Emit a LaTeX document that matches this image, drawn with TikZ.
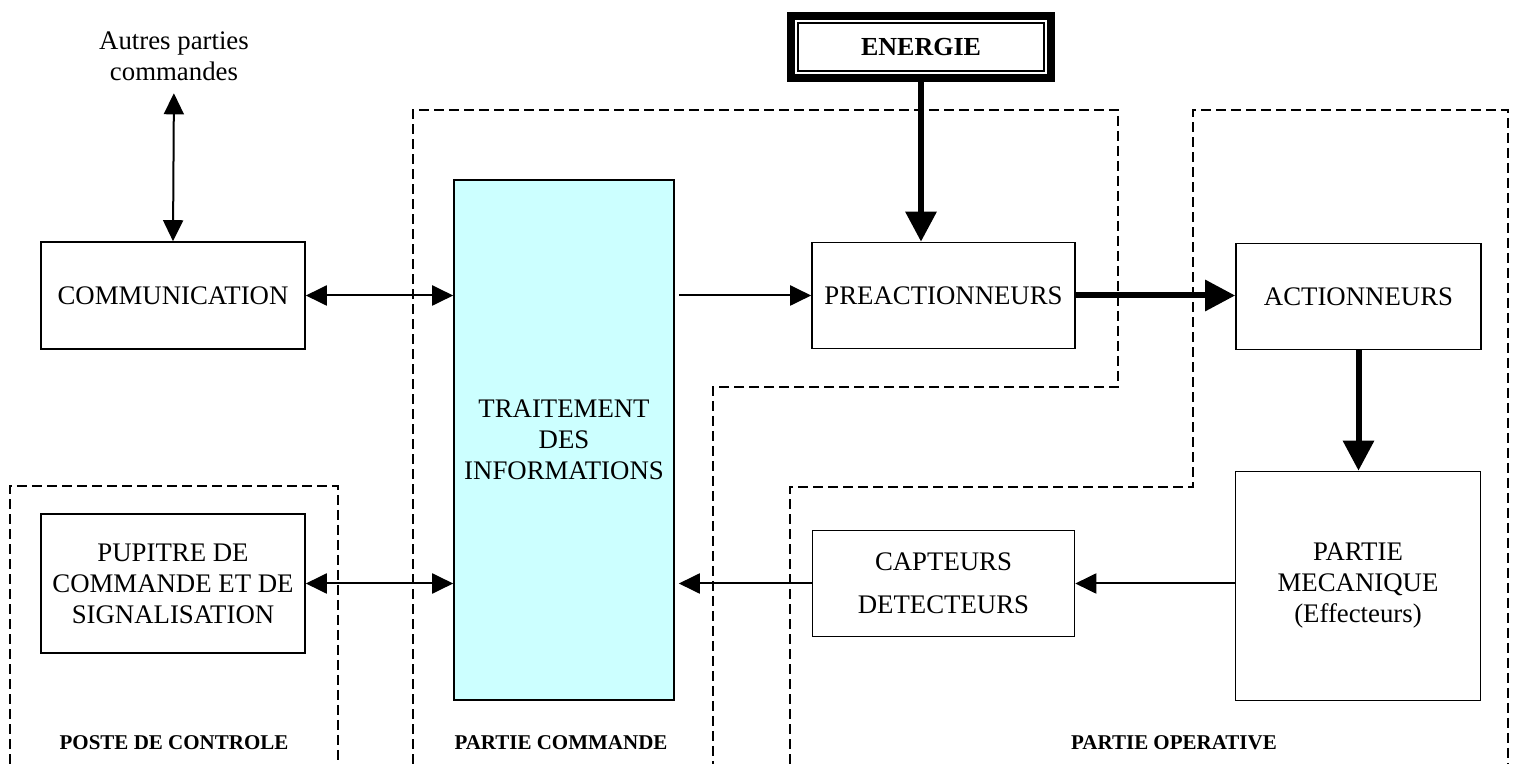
\documentclass[tikz,border=0pt]{standalone}
\usepackage{fontspec}
\setmainfont{Liberation Serif}
\usepackage{tikz}
\usetikzlibrary{arrows.meta,calc}
\definecolor{ticyan}{HTML}{CCFFFF}
\tikzset{
  bloc/.style={draw=black, line width=0.8pt, align=center, inner sep=2pt,
               font=\fontsize{13.4}{15.5}\selectfont},
  zone/.style={draw=black, line width=0.8pt, dash pattern=on 5pt off 2.5pt},
  etiq/.style={font=\fontsize{10.5}{12}\selectfont\bfseries},
  fleche/.style={line width=1pt, -{Triangle[length=10.5pt,width=10pt]}},
  flechedouble/.style={line width=1pt,
               {Triangle[length=10.5pt,width=10pt]}-{Triangle[length=10.5pt,width=10pt]}},
  flechelarge/.style={line width=3pt, -{Triangle[length=15pt,width=15pt]}},
}

\begin{document}
\begin{tikzpicture}[x=0.5pt,y=-0.5pt]
  \useasboundingbox (0,0) rectangle (1517,764);
  % zones en pointilles
  \draw[zone] (10,764) -- (10,486) -- (338,486) -- (338,764);
  \draw[zone] (413,764) -- (413,110) -- (1118,110) -- (1118,387) -- (713,387) -- (713,764);
  \draw[zone] (790,764) -- (790,487) -- (1193,487) -- (1193,110) -- (1508,110) -- (1508,764);
  \node[etiq] (lposte) at (174,743) {POSTE DE CONTROLE};
  \node[etiq] (lcommande) at (561,743) {PARTIE COMMANDE};
  \node[etiq] (loperative) at (1174,743) {PARTIE OPERATIVE};

  % blocs
  \node[bloc, inner sep=0pt, draw=none] (autres) at (174,56) {Autres parties\\commandes};
  \node[bloc, minimum width=132pt, minimum height=53.5pt] (comm) at (173,295.5) {COMMUNICATION};
  \node[bloc, minimum width=132pt, minimum height=69.5pt] (pup) at (173,583.5)
    {PUPITRE DE\\COMMANDE ET DE\\SIGNALISATION};
  \node[bloc, fill=ticyan, minimum width=110pt, minimum height=260pt] (trait) at (564,440)
    {TRAITEMENT\\DES\\INFORMATIONS};
  \node[bloc, minimum width=131.5pt, minimum height=53pt] (prea) at (943.5,295.5) {PREACTIONNEURS};
  \node[bloc, minimum width=122.5pt, minimum height=53pt] (act) at (1358.5,296.5) {ACTIONNEURS};
  \node[bloc, minimum width=122.5pt, minimum height=114.5pt] (meca) at (1358,586)
    {PARTIE\\MECANIQUE\\(Effecteurs)};
  \node[bloc, minimum width=131pt, minimum height=53pt] (capt) at (943.5,583.5)
    {CAPTEURS\\[6pt]DETECTEURS};
  \node[bloc, line width=4pt, font=\fontsize{13}{15.5}\selectfont\bfseries,
        minimum width=130pt, minimum height=31pt] (ener) at (921,47) {ENERGIE};
  \draw[line width=0.75pt] ($(ener.north west)+(5.5pt,-5.5pt)$) rectangle ($(ener.south east)+(-5.5pt,5.5pt)$);

  % liaisons
  \draw[flechedouble, shorten <=6pt] (autres.south) -- (comm.north);
  \draw[flechedouble] (comm.east) -- (comm.east -| trait.west);
  \draw[fleche, shorten <=2pt] (trait.east |- prea.west) -- (prea.west);
  \draw[flechelarge] (prea.east) -- (prea.east -| act.west);
  \draw[flechelarge] (ener.south) -- (ener.south |- prea.north);
  \draw[flechelarge] (act.south) -- (act.south |- meca.north);
  \draw[flechedouble] (pup.east) -- (pup.east -| trait.west);
  \draw[fleche, shorten >=2pt] (capt.west) -- (capt.west -| trait.east);
  \draw[fleche] (meca.west |- capt.east) -- (capt.east);
\end{tikzpicture}
\end{document}
